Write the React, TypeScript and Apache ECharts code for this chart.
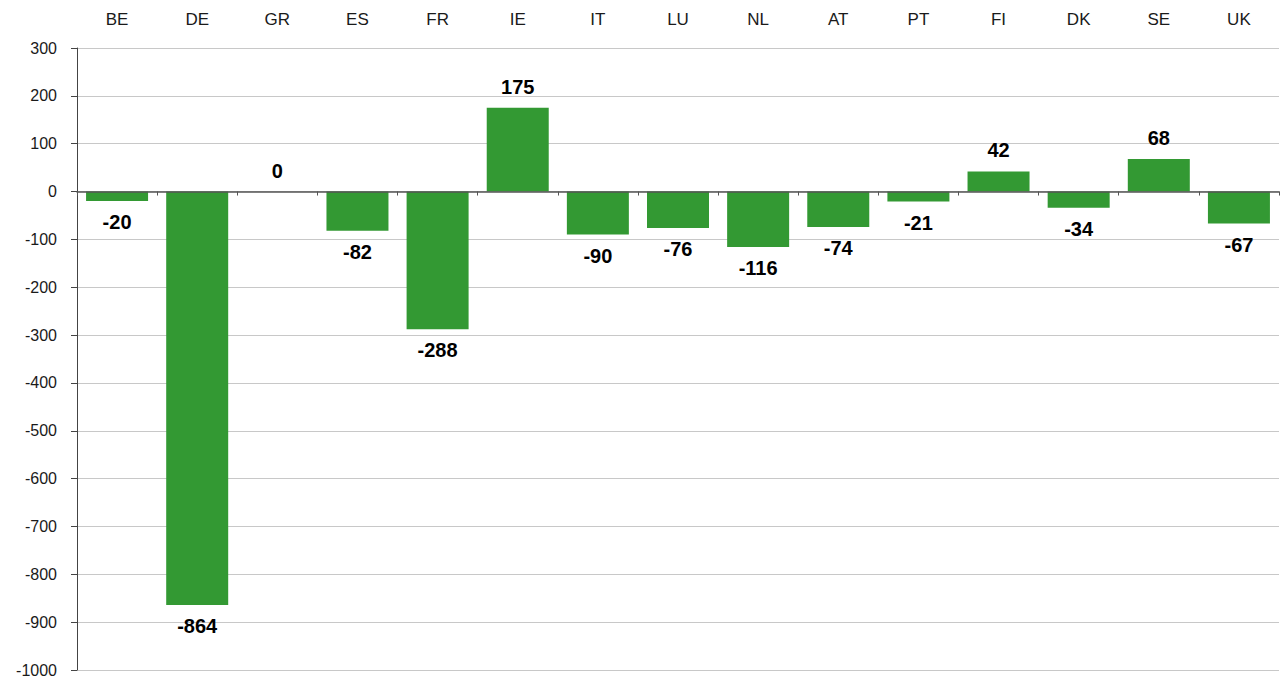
import React, { useEffect, useRef } from "react";
import * as echarts from "echarts";

const categories = ["BE", "DE", "GR", "ES", "FR", "IE", "IT", "LU", "NL", "AT", "PT", "FI", "DK", "SE", "UK"];
const values = [-20, -864, 0, -82, -288, 175, -90, -76, -116, -74, -21, 42, -34, 68, -67];
const yMin = -1000;
const yMax = 300;
const yInterval = 100;

const FONT = "'Liberation Sans', Arial, sans-serif";

export default function App() {
  const ref = useRef<HTMLDivElement>(null);
  useEffect(() => {
    if (!ref.current) return;
    const chart = echarts.init(ref.current, undefined, { renderer: "svg" });
    chart.setOption({
      animation: false,
      backgroundColor: "#ffffff",
      grid: { left: 77, right: 2, top: 48, bottom: 9, containLabel: false },
      xAxis: [
        {
          type: "category",
          data: categories,
          position: "top",
          axisLine: { show: false, onZero: false },
          axisTick: { show: false },
          splitLine: { show: false },
          axisLabel: { color: "#1a1a1a", fontSize: 17, fontFamily: FONT, margin: 20 },
        },
        {
          type: "category",
          data: categories,
          position: "bottom",
          z: 5,
          axisLine: { show: true, onZero: true, lineStyle: { color: "#555555", width: 1.5 } },
          axisTick: { show: true, inside: false, length: 4, lineStyle: { color: "#555555", width: 1 } },
          axisLabel: { show: false },
          splitLine: { show: false },
        },
      ],
      yAxis: {
        type: "value",
        min: yMin,
        max: yMax,
        interval: yInterval,
        axisLine: { show: true, lineStyle: { color: "#444444", width: 1 } },
        axisTick: { show: true, length: 6, lineStyle: { color: "#444444" } },
        splitLine: { show: true, lineStyle: { color: "#c8c8c8", width: 1 } },
        axisLabel: {
          color: "#1a1a1a",
          fontSize: 16,
          fontFamily: FONT,
          margin: 20,
          formatter: (v: number) => String(v),
        },
      },
      series: [
        {
          type: "bar",
          xAxisIndex: 1,
          barWidth: 62,
          itemStyle: { color: "#339933" },
          data: values.map((v) => ({
            value: v,
            label: {
              show: true,
              position: v >= 0 ? "top" : "bottom",
              distance: 11,
              color: "#000000",
              fontSize: 20,
              fontWeight: "bold",
              fontFamily: FONT,
            },
          })),
        },
      ],
    });
    return () => chart.dispose();
  }, []);
  return <div ref={ref} style={{ position: "fixed", left: 0, top: 0, width: 1281, height: 679 }} />;
}
